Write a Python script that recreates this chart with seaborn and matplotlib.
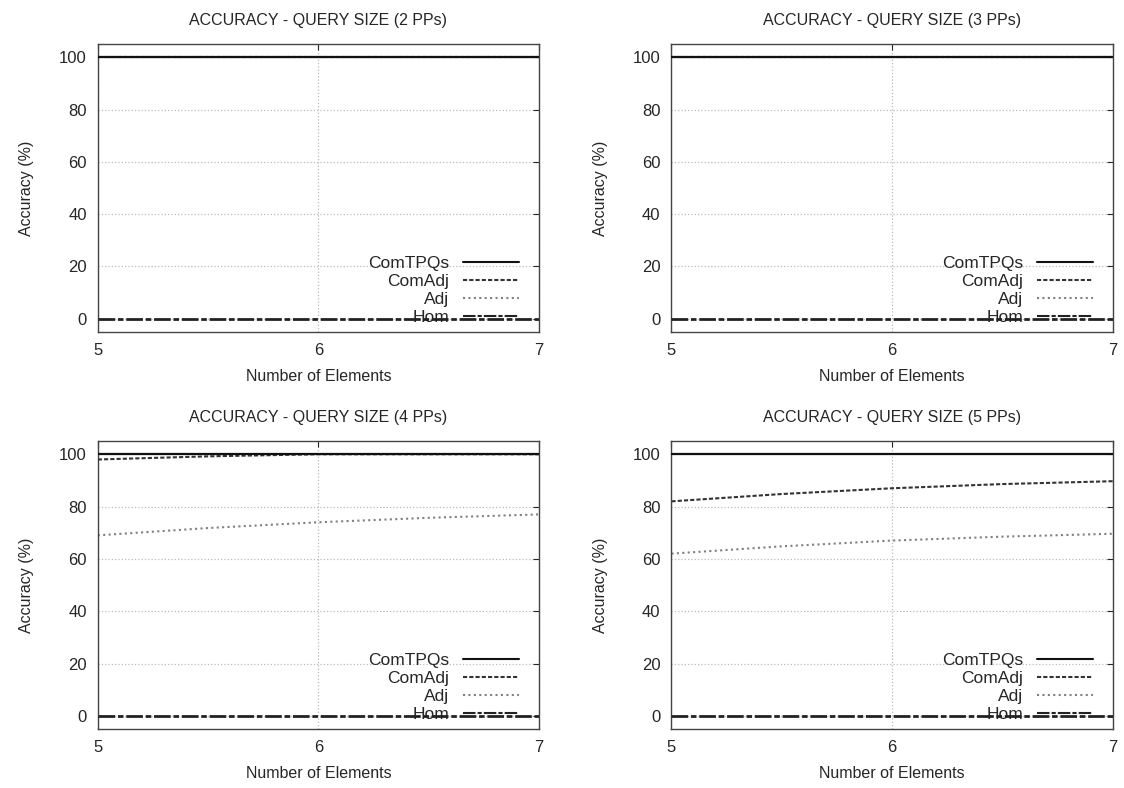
import pandas as pd
import numpy as np
import matplotlib.pyplot as plt
import seaborn as sns

elements = [5, 5.5, 6, 6.5, 7]
series_names = ['ComTPQs', 'ComAdj', 'Adj', 'Hom']
titles = ['ACCURACY - QUERY SIZE (2 PPs)', 'ACCURACY - QUERY SIZE (3 PPs)',
          'ACCURACY - QUERY SIZE (4 PPs)', 'ACCURACY - QUERY SIZE (5 PPs)']

# accuracy values, one dict per panel
pp2 = {'ComTPQs': [100, 100, 100, 100, 100], 'ComAdj': [100, 100, 100, 100, 100],
       'Adj': [100, 100, 100, 100, 100], 'Hom': [0, 0, 0, 0, 0]}
pp3 = {'ComTPQs': [100, 100, 100, 100, 100], 'ComAdj': [100, 100, 100, 100, 100],
       'Adj': [100, 100, 100, 100, 100], 'Hom': [0, 0, 0, 0, 0]}
pp4 = {'ComTPQs': [100, 100, 100, 100, 100], 'ComAdj': [98, 99.2, 100, 100, 100],
       'Adj': [69, 71.8, 74, 75.7, 77], 'Hom': [0, 0, 0, 0, 0]}
pp5 = {'ComTPQs': [100, 100, 100, 100, 100], 'ComAdj': [82, 84.8, 87, 88.6, 89.7],
       'Adj': [62, 64.8, 67, 68.5, 69.6], 'Hom': [0, 0, 0, 0, 0]}
panels = [pp2, pp3, pp4, pp5]

sns.set_style('white')
plt.rcParams['font.family'] = ['Liberation Sans', 'DejaVu Sans']

palette = {'ComTPQs': '#111111', 'ComAdj': '#333333', 'Adj': '#808080', 'Hom': '#222222'}
dashes = {'ComTPQs': '', 'ComAdj': (2, 1), 'Adj': (1, 1.6), 'Hom': (6, 1, 2, 1)}
widths = {'ComTPQs': 1.6, 'ComAdj': 1.5, 'Adj': 1.5, 'Hom': 2.0}
zorders = {'ComTPQs': 5, 'ComAdj': 3, 'Adj': 2, 'Hom': 4}

fig, axes = plt.subplots(2, 2, figsize=(11.24, 7.88), dpi=100)
for ax, vals, title in zip(axes.flat, panels, titles):
    rows = []
    for name in series_names:
        for x, y in zip(elements, vals[name]):
            rows.append({'Number of Elements': x, 'Accuracy': y, 'series': name})
    df = pd.DataFrame(rows)
    sns.lineplot(data=df, x='Number of Elements', y='Accuracy', hue='series', style='series',
                 palette=palette, dashes=dashes, hue_order=series_names, style_order=series_names,
                 ax=ax, linewidth=1.5)
    for line, name in zip(ax.get_lines(), series_names):
        line.set_linewidth(widths[name])
        line.set_zorder(zorders[name])
    ax.set_xlim(5, 7)
    ax.set_ylim(-5, 105)
    ax.set_xticks([5, 6, 7])
    ax.set_yticks([0, 20, 40, 60, 80, 100])
    ax.grid(True, color='#bbbbbb', linestyle=':', linewidth=0.9)
    ax.tick_params(direction='in', top=True, right=True, length=4, labelsize=12, pad=8)
    for s in ax.spines.values():
        s.set_color('#444444')
        s.set_linewidth(1.0)
    ax.set_title(title, fontsize=11.5, pad=14)
    ax.set_xlabel('Number of Elements', fontsize=11.5, labelpad=8)
    ax.set_ylabel('Accuracy (%)', fontsize=11.5, labelpad=18)
    handles, labels = ax.get_legend_handles_labels()
    leg = ax.legend(handles, labels, loc='lower right', frameon=False, markerfirst=False,
                    fontsize=12.5, handlelength=3.2, labelspacing=0.16, borderaxespad=0.0,
                    bbox_to_anchor=(0.97, 0.0))
    leg.set_zorder(1)

plt.subplots_adjust(left=0.087, right=0.99, top=0.944, bottom=0.075, wspace=0.3, hspace=0.38)
plt.savefig('out.png')
